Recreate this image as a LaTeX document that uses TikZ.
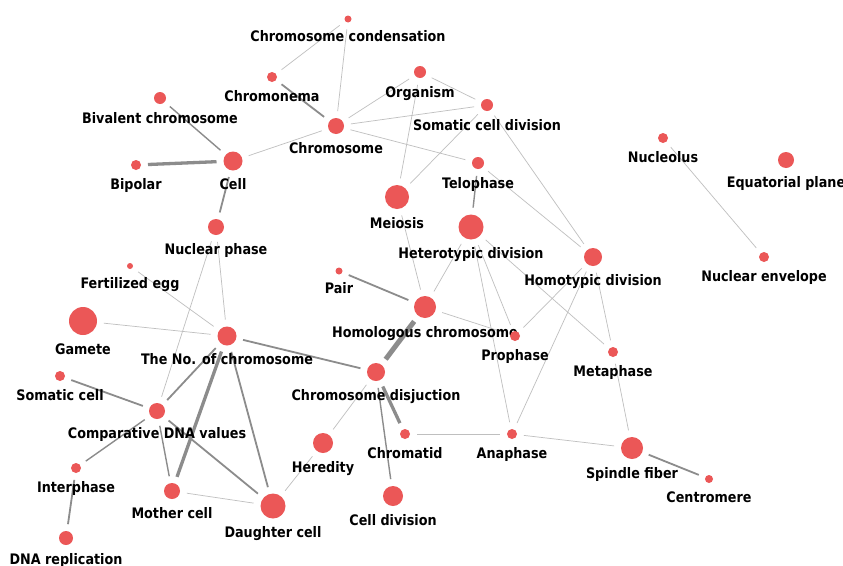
\documentclass[tikz,border=0pt]{standalone}
\usepackage{fontspec}
\setmainfont{DejaVu Sans}[FakeStretch=0.88]
\usetikzlibrary{backgrounds}
\definecolor{dotc}{RGB}{235,87,87}
\tikzset{
  dot/.style={circle, fill=dotc, draw=none, inner sep=0pt, outer sep=7pt},
  lab/.style={font=\fontsize{14.5}{16}\selectfont\bfseries, anchor=base, inner sep=0pt, text=black},
  ethin/.style={draw=black!25, line width=0.7pt},
  emid/.style={draw=black!45, line width=1.8pt},
  ethick/.style={draw=black!45, line width=3.3pt},
  evthick/.style={draw=black!45, line width=5pt},
}
\newcommand\gnode[5]{%
  \node[dot, minimum size={2*#4pt}] (#1) at (#2,#3) {};
  \node[lab] (#1-l) at (#2,{#3+#4+19}) {#5};}
\begin{document}
\begin{tikzpicture}[x=1pt,y=-1pt]
\begin{scope}[on background layer]
\fill[white] (0,0) rectangle (843,565);
\end{scope}
\useasboundingbox (0,0) rectangle (843,565);
\gnode{cc}{348}{19}{3.5}{Chromosome condensation}
\gnode{org}{420}{72}{6}{Organism}
\gnode{chn}{272}{77}{5}{Chromonema}
\gnode{biv}{160}{98}{6}{Bivalent chromosome}
\gnode{scd}{487}{105}{6}{Somatic cell division}
\gnode{chr}{336}{126}{8}{Chromosome}
\gnode{nuc}{663}{138}{5}{Nucleolus}
\gnode{cell}{233}{161}{9.5}{Cell}
\gnode{eqp}{786}{160}{8}{Equatorial plane}
\gnode{tel}{478}{163}{6}{Telophase}
\gnode{bip}{136}{165}{5}{Bipolar}
\gnode{mei}{397}{197}{12}{Meiosis}
\gnode{het}{471}{227}{12.5}{Heterotypic division}
\gnode{nph}{216}{227}{8}{Nuclear phase}
\gnode{hom}{593}{257}{9}{Homotypic division}
\gnode{nenv}{764}{257}{5}{Nuclear envelope}
\gnode{fer}{130}{266}{3}{Fertilized egg}
\gnode{pair}{339}{271}{3.5}{Pair}
\gnode{hcr}{425}{307}{11}{Homologous chromosome}
\gnode{gam}{83}{321}{14}{Gamete}
\gnode{noc}{227}{336}{9.5}{The No. of chromosome}
\gnode{pro}{515}{336}{5}{Prophase}
\gnode{met}{613}{352}{5}{Metaphase}
\gnode{dis}{376}{372}{9}{Chromosome disjuction}
\gnode{sc}{60}{376}{5}{Somatic cell}
\gnode{cdna}{157}{411}{8}{Comparative DNA values}
\gnode{ctd}{405}{434}{5}{Chromatid}
\gnode{ana}{512}{434}{5}{Anaphase}
\gnode{her}{323}{443}{10}{Heredity}
\gnode{spf}{632}{448}{11}{Spindle fiber}
\gnode{inter}{76}{468}{5}{Interphase}
\gnode{cen}{709}{479}{4}{Centromere}
\gnode{mot}{172}{491}{8}{Mother cell}
\gnode{cdiv}{393}{496}{10}{Cell division}
\gnode{dau}{273}{506}{12.5}{Daughter cell}
\gnode{dna}{66}{538}{7}{DNA replication}
\begin{scope}[on background layer]
% thin edges
\draw[ethin] (cc) -- (chn);
\draw[ethin] (cc) -- (chr);
\draw[ethin] (chr) -- (org);
\draw[ethin] (chr) -- (scd);
\draw[ethin] (chr) -- (tel);
\draw[ethin] (chr) -- (cell);
\draw[ethin] (org) -- (scd);
\draw[ethin] (org) -- (mei);
\draw[ethin] (scd) -- (mei);
\draw[ethin] (scd) -- (hom);
\draw[ethin] (tel) -- (hom);
\draw[ethin] (nph) -- (noc);
\draw[ethin] (nph) -- (cdna);
\draw[ethin] (fer) -- (noc);
\draw[ethin] (gam) -- (noc);
\draw[ethin] (mot) -- (dau);
\draw[ethin] (dau) -- (her);
\draw[ethin] (her) -- (dis);
\draw[ethin] (mei) -- (hcr);
\draw[ethin] (het) -- (hcr);
\draw[ethin] (hcr) -- (pro);
\draw[ethin] (het) -- (pro);
\draw[ethin] (het) -- (met);
\draw[ethin] (het) -- (ana);
\draw[ethin] (hom) -- (pro);
\draw[ethin] (hom) -- (ana);
\draw[ethin] (hom) -- (met);
\draw[ethin] (met) -- (spf);
\draw[ethin] (ana) -- (spf);
\draw[ethin] (ctd) -- (ana);
\draw[ethin] (nuc) -- (nenv);
% medium edges
\draw[emid] (chn) -- (chr);
\draw[emid, line width=1.4pt] (biv) -- (cell);
\draw[emid] (cell) -- (nph);
\draw[emid, line width=1.4pt] (tel) -- (het);
\draw[emid] (noc) -- (dis);
\draw[emid] (noc) -- (cdna);
\draw[emid] (noc) -- (dau);
\draw[emid] (sc) -- (cdna);
\draw[emid, line width=1.4pt] (cdna) -- (inter);
\draw[emid, line width=1.4pt] (cdna) -- (mot);
\draw[emid] (cdna) -- (dau);
\draw[emid] (inter) -- (dna);
\draw[emid, line width=1.4pt] (dis) -- (cdiv);
\draw[emid] (pair) -- (hcr);
\draw[emid] (spf) -- (cen);
% thick edges
\draw[ethick] (bip) -- (cell);
\draw[ethick] (noc) -- (mot);
\draw[ethick] (dis) -- (ctd);
\draw[evthick] (dis) -- (hcr);
\end{scope}
\end{tikzpicture}
\end{document}
